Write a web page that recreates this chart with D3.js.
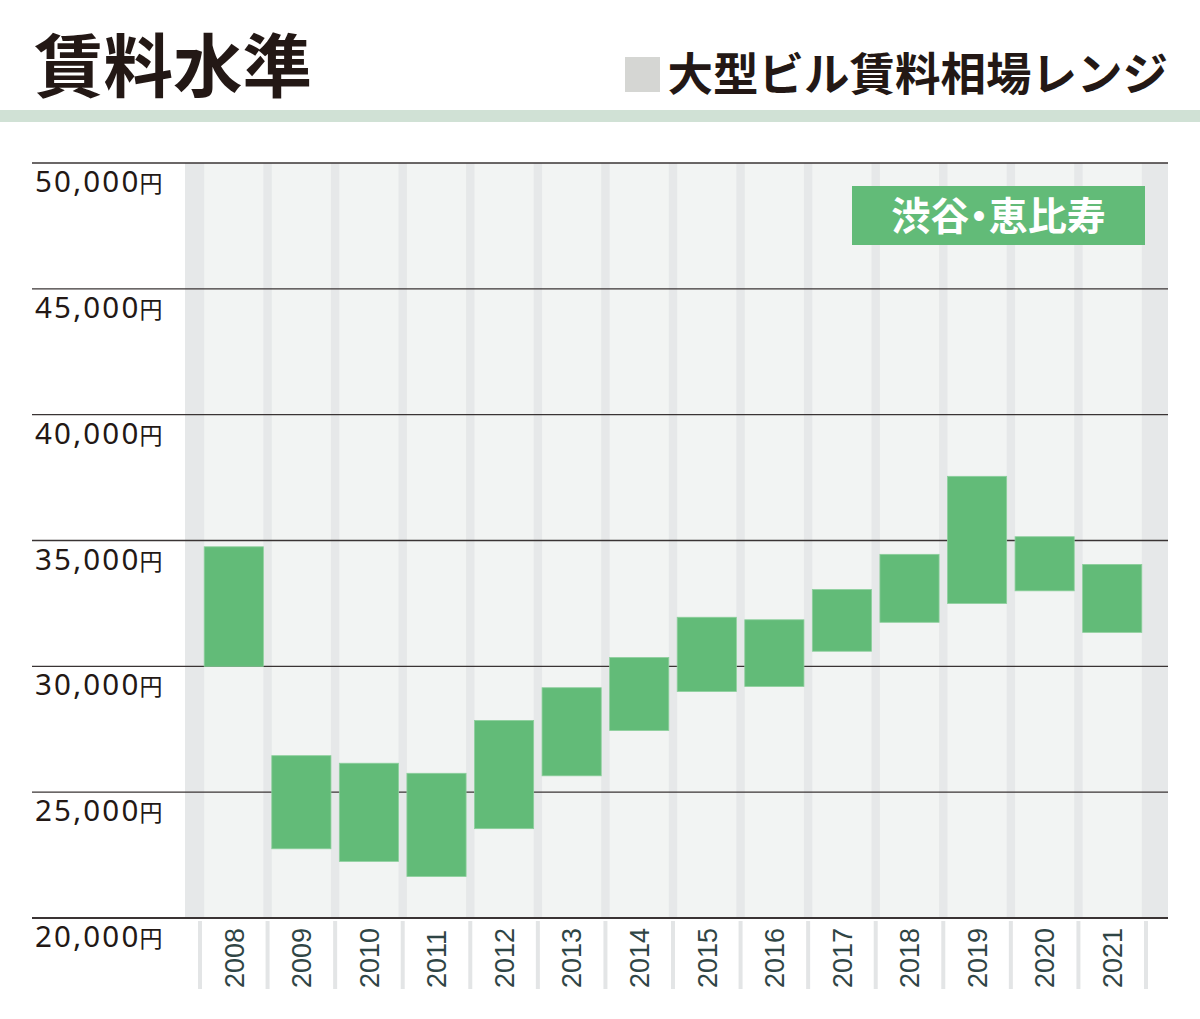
<!DOCTYPE html>
<meta charset="utf-8">
<html>
<head>
  <title>賃料水準</title>
  <style>
    body { margin: 0; background: #ffffff; }
    svg { display: block; }
  </style>
</head>
<body>
<div id="my_dataviz"></div>

<script src="https://d3js.org/d3.v7.min.js"></script>
<script>

    // data (yen per tsubo)
    var years = ["2008", "2009", "2010", "2011", "2012", "2013", "2014",
                 "2015", "2016", "2017", "2018", "2019", "2020", "2021"];
    var rentHigh = [34750, 26450, 26150, 25750, 27850, 29150, 30350,
                    31950, 31850, 33050, 34450, 37550, 35150, 34050];
    var rentLow  = [30000, 22750, 22250, 21650, 23550, 25650, 27450,
                    29000, 29200, 30600, 31750, 32500, 33000, 31350];
    var yTicks = [20000, 25000, 30000, 35000, 40000, 45000, 50000];

    var titleText = "賃料水準";
    var legendText = "大型ビル賃料相場レンジ";
    var areaText = "渋谷・恵比寿";

    var rows = years.map(function(d, i) {
      return { year: d, high: rentHigh[i], low: rentLow[i] };
    });

    // layout
    var W = 1200, H = 1019;
    var plotLeft = 185, plotRight = 1168, plotTop = 163, plotBottom = 918;
    var green = "#62bb78";
    var ink = "#231815";

    var svg = d3.select("#my_dataviz")
      .append("svg")
        .attr("width", W)
        .attr("height", H);

    // scales
    var x = d3.scaleBand()
      .domain(years)
      .range([200, 1146])
      .padding(0);
    var inset = 4.2;

    var y = d3.scaleLinear()
      .domain([20000, 50000])
      .range([plotBottom, plotTop]);

    // header
    svg.append("text")
      .attr("x", 34)
      .attr("y", 92)
      .style("font-family", "'Noto Sans CJK JP', sans-serif")
      .style("font-weight", 700)
      .style("font-size", "69.5px")
      .style("fill", ink)
      .text(titleText);

    svg.append("text")
      .attr("x", 1168)
      .attr("y", 91)
      .attr("text-anchor", "end")
      .style("font-family", "'Noto Sans CJK JP', sans-serif")
      .style("font-weight", 700)
      .style("font-size", "45.5px")
      .style("fill", ink)
      .text(legendText);

    svg.append("rect")
      .attr("x", 625).attr("y", 57)
      .attr("width", 35).attr("height", 35)
      .attr("fill", "#d5d6d3");

    svg.append("rect")
      .attr("x", 0).attr("y", 110)
      .attr("width", W).attr("height", 12)
      .attr("fill", "#d0e1d5");

    // plot background: darker separators with light columns on top
    svg.append("rect")
      .attr("x", plotLeft).attr("y", plotTop)
      .attr("width", plotRight - plotLeft).attr("height", plotBottom - plotTop)
      .attr("fill", "#e6e8e9");

    svg.selectAll(".col")
      .data(rows)
      .enter()
      .append("rect")
        .attr("class", "col")
        .attr("x", function(d) { return x(d.year) + inset; })
        .attr("y", plotTop)
        .attr("width", x.bandwidth() - 2 * inset)
        .attr("height", plotBottom - plotTop)
        .attr("fill", "#f2f4f3");

    // separator ticks under the axis
    var bounds = years.map(function(d) { return x(d); }).concat([x.range()[1]]);
    svg.selectAll(".sep")
      .data(bounds)
      .enter()
      .append("rect")
        .attr("class", "sep")
        .attr("x", function(d) { return d - 2; })
        .attr("y", 921)
        .attr("width", 4)
        .attr("height", 68)
        .attr("fill", "#e3e5e6");

    // horizontal grid lines + labels
    var grid = svg.selectAll(".grid")
      .data(yTicks)
      .enter()
      .append("g")
        .attr("class", "grid")
        .attr("transform", function(d) { return "translate(0," + y(d) + ")"; });

    grid.append("line")
      .attr("x1", 32).attr("x2", plotRight)
      .attr("y1", 0).attr("y2", 0)
      .attr("stroke", "#3a3434")
      .attr("stroke-width", function(d) { return d === 20000 ? 2 : 1.4; });

    var lab = grid.append("text")
      .attr("x", 35)
      .attr("y", 29)
      .style("font-family", "'Noto Sans', sans-serif")
      .style("font-size", "29.5px")
      .style("letter-spacing", "2.2px")
      .style("fill", ink);
    lab.append("tspan")
      .text(function(d) { return d3.format(",")(d); });
    lab.append("tspan")
      .attr("dx", -1)
      .style("font-family", "'Noto Sans CJK JP', sans-serif")
      .style("font-size", "23px")
      .style("letter-spacing", "0px")
      .text("円");

    // range bars
    svg.selectAll(".bar")
      .data(rows)
      .enter()
      .append("rect")
        .attr("class", "bar")
        .attr("x", function(d) { return x(d.year) + inset; })
        .attr("y", function(d) { return y(d.high); })
        .attr("width", x.bandwidth() - 2 * inset)
        .attr("height", function(d) { return y(d.low) - y(d.high); })
        .attr("fill", green)
        .attr("stroke", "#8ccf9c")
        .attr("stroke-width", 0.8);

    // year labels
    svg.selectAll(".yr")
      .data(years)
      .enter()
      .append("text")
        .attr("class", "yr")
        .attr("transform", function(d) {
          return "translate(" + (x(d) + x.bandwidth() / 2) + ",988) rotate(-90)";
        })
        .attr("dy", "0.36em")
        .style("font-family", "'Liberation Sans', Arial, sans-serif")
        .style("font-size", "27px")
        .style("fill", "#2f4545")
        .text(function(d) { return d; });

    // area badge
    svg.append("rect")
      .attr("x", 852).attr("y", 186)
      .attr("width", 293).attr("height", 59)
      .attr("fill", green);

    svg.append("text")
      .attr("x", 998.5)
      .attr("y", 230)
      .attr("text-anchor", "middle")
      .style("font-family", "'Noto Sans CJK JP', sans-serif")
      .style("font-weight", 700)
      .style("font-size", "39px")
      .style("font-feature-settings", "'palt'")
      .style("fill", "#ffffff")
      .text(areaText);

</script>
</body>
</html>
